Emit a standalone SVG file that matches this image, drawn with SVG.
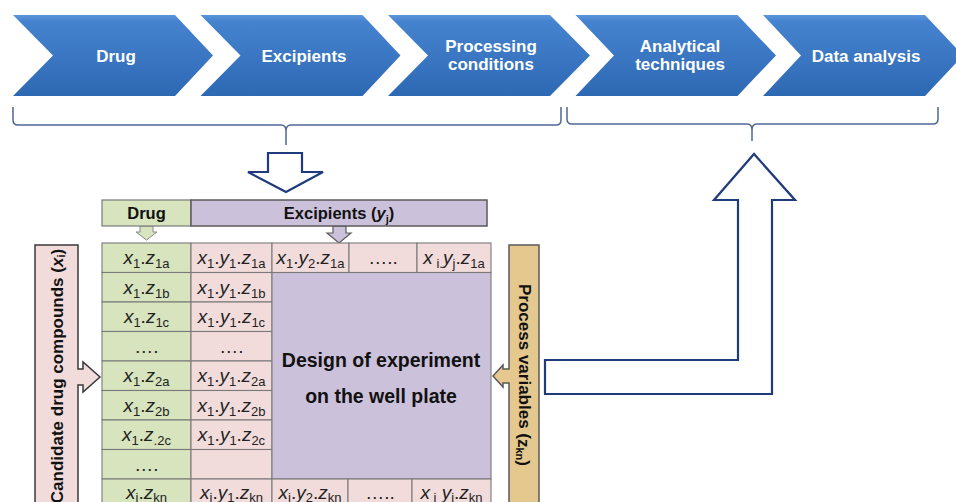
<svg xmlns="http://www.w3.org/2000/svg" width="956" height="502" viewBox="0 0 956 502">
<defs>
<linearGradient id="chev" x1="0" y1="0" x2="0" y2="1">
<stop offset="0" stop-color="#5b95da"/>
<stop offset="0.08" stop-color="#4683cf"/>
<stop offset="1" stop-color="#2d68b3"/>
</linearGradient>
<style>
.chev{fill:url(#chev);}
.ctx{font-family:"Liberation Sans",Arial,sans-serif;font-weight:bold;font-size:17px;fill:#ffffff;text-anchor:middle;}
.brace{fill:none;stroke:#4f6896;stroke-width:1.5;}
.hollow{fill:#ffffff;stroke:#1f3b7c;stroke-width:2.2;stroke-linejoin:miter;}
.grid{stroke:#7a7a7a;stroke-width:1.1;}
.green{fill:#d7e4bd;}
.pink{fill:#f2dcdb;}
.purple{fill:#ccc1da;}
.hdr{font-family:"Liberation Sans",Arial,sans-serif;font-weight:bold;font-size:16.5px;fill:#111;text-anchor:middle;}
.ct{font-family:"Liberation Sans",Arial,sans-serif;font-size:19px;fill:#222;text-anchor:middle;}
.v{font-style:italic;}
.s{font-size:13px;}
.big{font-family:"Liberation Sans",Arial,sans-serif;font-weight:bold;font-size:19.5px;fill:#111;text-anchor:middle;}
.side{font-family:"Liberation Sans",Arial,sans-serif;font-weight:bold;font-size:17px;fill:#111;text-anchor:middle;dominant-baseline:central;}
</style>
</defs>
<rect width="956" height="502" fill="#ffffff"/>

<g id="chevron-drug">
<polygon class="chev" points="13,15 175,15 213,55.5 175,96 13,96 53,55.5"/>
<text class="ctx" x="116" y="62">Drug</text>
</g>
<g id="chevron-excipients">
<polygon class="chev" points="200.5,15 362.5,15 400.5,55.5 362.5,96 200.5,96 240.5,55.5"/>
<text class="ctx" x="304" y="62">Excipients</text>
</g>
<g id="chevron-processing">
<polygon class="chev" points="388,15 550,15 590,55.5 550,96 388,96 428,55.5"/>
<text class="ctx" x="491" y="52">Processing</text>
<text class="ctx" x="491" y="70">conditions</text>
</g>
<g id="chevron-analytical">
<polygon class="chev" points="575.5,15 737.5,15 776,55.5 737.5,96 575.5,96 614,55.5"/>
<text class="ctx" x="680" y="51.5">Analytical</text>
<text class="ctx" x="680" y="69.5">techniques</text>
</g>
<g id="chevron-data">
<polygon class="chev" points="763,15 925,15 963,55.5 925,96 763,96 801,55.5"/>
<text class="ctx" x="866" y="62">Data analysis</text>
</g>

<g id="connectors">
<path class="brace" d="M13,107 L13,120 Q13,125 18,125 L281,125 Q286,125 286,131 L286,145 M286,131 Q286,125 291,125 L556,125 Q561,125 561,120 L561,107"/>
<path class="brace" d="M567,107 L567,119 Q567,124 572,124 L747,124 Q752,124 752,130 L752,141 M752,130 Q752,124 757,124 L933,124 Q938,124 938,119 L938,107"/>
<path class="hollow" d="M268,153 L302,153 L302,172 L323,172 L286,192 L248,172 L268,172 Z"/>
<path class="hollow" d="M545,360 L738,360 L738,200 L714,200 L754,154 L795,200 L772,200 L772,394 L545,394 Z"/>
<path d="M140,226 L153,226 L153,232 L157,232 L146.5,240 L136,232 L140,232 Z" fill="#d7e4bd" stroke="#8a8a8a" stroke-width="1"/>
<path d="M333,226 L346,226 L346,233 L351,233 L339,243 L327,233 L333,233 Z" fill="#ccc1da" stroke="#5a5a5a" stroke-width="1.2"/>
</g>

<g id="header-drug">
<rect x="102" y="200" width="89" height="26" class="green" stroke="#7a7a7a" stroke-width="1.2"/>
<text class="hdr" x="146.5" y="219">Drug</text>
</g>
<g id="header-excipients">
<rect x="191" y="200" width="296" height="26" class="purple" stroke="#5a5a5a" stroke-width="1.5"/>
<text class="hdr" x="339" y="219">Excipients (<tspan class="v">y</tspan><tspan font-size="11" dy="4">j</tspan><tspan dy="-4">)</tspan></text>
</g>

<g id="candidate-bar">
<path d="M35,245 L78,245 L78,369 L83,369 L83,362 L100,377 L83,392 L83,385 L78,385 L78,510 L35,510 Z" fill="#f2dcdb" stroke="#3a3a3a" stroke-width="1.5"/>
<text class="side" transform="translate(57,376) rotate(-90)">Candidate drug compounds (<tspan class="v">x</tspan><tspan font-size="11" dy="4">i</tspan><tspan dy="-4">)</tspan></text>
</g>

<g id="process-bar">
<path d="M539,245 L509,245 L509,369 L503,369 L503,365 L493,376 L503,387 L503,383 L509,383 L509,510 L539,510 Z" fill="#e4c88e" stroke="#5a5a5a" stroke-width="1.5"/>
<text class="side" transform="translate(524,375) rotate(90)" font-size="16.5">Process variables (<tspan>z</tspan><tspan font-size="11" dy="4">kn</tspan><tspan dy="-4">)</tspan></text>
</g>

<g id="well-plate">
<g class="grid">
<rect class="green" x="102" y="243" width="89" height="29.5"/>
<rect class="green" x="102" y="272.5" width="89" height="29.5"/>
<rect class="green" x="102" y="302" width="89" height="29.5"/>
<rect class="green" x="102" y="331.5" width="89" height="29.5"/>
<rect class="green" x="102" y="361" width="89" height="29.5"/>
<rect class="green" x="102" y="390.5" width="89" height="29.5"/>
<rect class="green" x="102" y="420" width="89" height="29.5"/>
<rect class="green" x="102" y="449.5" width="89" height="29.5"/>
<rect class="green" x="102" y="479" width="89" height="29.5"/>
<rect class="pink" x="191" y="243" width="81" height="29.5"/>
<rect class="pink" x="191" y="272.5" width="81" height="29.5"/>
<rect class="pink" x="191" y="302" width="81" height="29.5"/>
<rect class="pink" x="191" y="331.5" width="81" height="29.5"/>
<rect class="pink" x="191" y="361" width="81" height="29.5"/>
<rect class="pink" x="191" y="390.5" width="81" height="29.5"/>
<rect class="pink" x="191" y="420" width="81" height="29.5"/>
<rect class="pink" x="191" y="449.5" width="81" height="29.5"/>
<rect class="pink" x="191" y="479" width="81" height="29.5"/>
<rect class="pink" x="272" y="243" width="77" height="29.5"/>
<rect class="pink" x="349" y="243" width="68" height="29.5"/>
<rect class="pink" x="417" y="243" width="74" height="29.5"/>
<rect class="purple" x="272" y="272.5" width="219" height="206.5"/>
<rect class="pink" x="272" y="479" width="76" height="29.5"/>
<rect class="pink" x="348" y="479" width="64" height="29.5"/>
<rect class="pink" x="412" y="479" width="79" height="29.5"/>
</g>

<text class="ct" x="146.5" y="264"><tspan class="v">x</tspan><tspan class="s" dy="4">1</tspan><tspan dy="-4">.</tspan><tspan class="v">z</tspan><tspan class="s" dy="4">1a</tspan></text>
<text class="ct" x="146.5" y="293.5"><tspan class="v">x</tspan><tspan class="s" dy="4">1</tspan><tspan dy="-4">.</tspan><tspan class="v">z</tspan><tspan class="s" dy="4">1b</tspan></text>
<text class="ct" x="146.5" y="323"><tspan class="v">x</tspan><tspan class="s" dy="4">1</tspan><tspan dy="-4">.</tspan><tspan class="v">z</tspan><tspan class="s" dy="4">1c</tspan></text>
<text class="ct" x="146.5" y="352.5">….</text>
<text class="ct" x="146.5" y="382"><tspan class="v">x</tspan><tspan class="s" dy="4">1</tspan><tspan dy="-4">.</tspan><tspan class="v">z</tspan><tspan class="s" dy="4">2a</tspan></text>
<text class="ct" x="146.5" y="411.5"><tspan class="v">x</tspan><tspan class="s" dy="4">1</tspan><tspan dy="-4">.</tspan><tspan class="v">z</tspan><tspan class="s" dy="4">2b</tspan></text>
<text class="ct" x="146.5" y="441"><tspan class="v">x</tspan><tspan class="s" dy="4">1</tspan><tspan dy="-4">.</tspan><tspan class="v">z</tspan><tspan class="s" dy="4">.2c</tspan></text>
<text class="ct" x="146.5" y="470.5">….</text>
<text class="ct" x="146.5" y="499"><tspan class="v">x</tspan><tspan class="s" dy="3">i</tspan><tspan dy="-3">.</tspan><tspan class="v">z</tspan><tspan class="s" dy="3">kn</tspan></text>

<text class="ct" x="231.5" y="264"><tspan class="v">x</tspan><tspan class="s" dy="4">1</tspan><tspan dy="-4">.</tspan><tspan class="v">y</tspan><tspan class="s" dy="4">1</tspan><tspan dy="-4">.</tspan><tspan class="v">z</tspan><tspan class="s" dy="4">1a</tspan></text>
<text class="ct" x="231.5" y="293.5"><tspan class="v">x</tspan><tspan class="s" dy="4">1</tspan><tspan dy="-4">.</tspan><tspan class="v">y</tspan><tspan class="s" dy="4">1</tspan><tspan dy="-4">.</tspan><tspan class="v">z</tspan><tspan class="s" dy="4">1b</tspan></text>
<text class="ct" x="231.5" y="323"><tspan class="v">x</tspan><tspan class="s" dy="4">1</tspan><tspan dy="-4">.</tspan><tspan class="v">y</tspan><tspan class="s" dy="4">1</tspan><tspan dy="-4">.</tspan><tspan class="v">z</tspan><tspan class="s" dy="4">1c</tspan></text>
<text class="ct" x="231.5" y="352.5">….</text>
<text class="ct" x="231.5" y="382"><tspan class="v">x</tspan><tspan class="s" dy="4">1</tspan><tspan dy="-4">.</tspan><tspan class="v">y</tspan><tspan class="s" dy="4">1</tspan><tspan dy="-4">.</tspan><tspan class="v">z</tspan><tspan class="s" dy="4">2a</tspan></text>
<text class="ct" x="231.5" y="411.5"><tspan class="v">x</tspan><tspan class="s" dy="4">1</tspan><tspan dy="-4">.</tspan><tspan class="v">y</tspan><tspan class="s" dy="4">1</tspan><tspan dy="-4">.</tspan><tspan class="v">z</tspan><tspan class="s" dy="4">2b</tspan></text>
<text class="ct" x="231.5" y="441"><tspan class="v">x</tspan><tspan class="s" dy="4">1</tspan><tspan dy="-4">.</tspan><tspan class="v">y</tspan><tspan class="s" dy="4">1</tspan><tspan dy="-4">.</tspan><tspan class="v">z</tspan><tspan class="s" dy="4">2c</tspan></text>
<text class="ct" x="231.5" y="499"><tspan class="v">x</tspan><tspan class="s" dy="3">i</tspan><tspan dy="-3">.</tspan><tspan class="v">y</tspan><tspan class="s" dy="3">1</tspan><tspan dy="-3">.</tspan><tspan class="v">z</tspan><tspan class="s" dy="3">kn</tspan></text>

<text class="ct" x="310.5" y="264"><tspan class="v">x</tspan><tspan class="s" dy="4">1</tspan><tspan dy="-4">.</tspan><tspan class="v">y</tspan><tspan class="s" dy="4">2</tspan><tspan dy="-4">.</tspan><tspan class="v">z</tspan><tspan class="s" dy="4">1a</tspan></text>
<text class="ct" x="383" y="264">…..</text>
<text class="ct" x="454" y="264"><tspan class="v">x</tspan><tspan class="s" dy="4"> i.</tspan><tspan class="v" dy="-4">y</tspan><tspan class="s" dy="4">j</tspan><tspan dy="-4">.</tspan><tspan class="v">z</tspan><tspan class="s" dy="4">1a</tspan></text>

<text class="ct" x="310" y="499"><tspan class="v">x</tspan><tspan class="s" dy="3">i</tspan><tspan dy="-3">.</tspan><tspan class="v">y</tspan><tspan class="s" dy="3">2</tspan><tspan dy="-3">.</tspan><tspan class="v">z</tspan><tspan class="s" dy="3">kn</tspan></text>
<text class="ct" x="380" y="499">…..</text>
<text class="ct" x="451.5" y="499"><tspan class="v">x</tspan><tspan class="s" dy="3"> i</tspan><tspan class="v" dy="-3"> y</tspan><tspan class="s" dy="3">j</tspan><tspan dy="-3">.</tspan><tspan class="v">z</tspan><tspan class="s" dy="3">kn</tspan></text>

<text class="big" x="381" y="367">Design of experiment</text>
<text class="big" x="381" y="403">on the well plate</text>
</g>
</svg>
